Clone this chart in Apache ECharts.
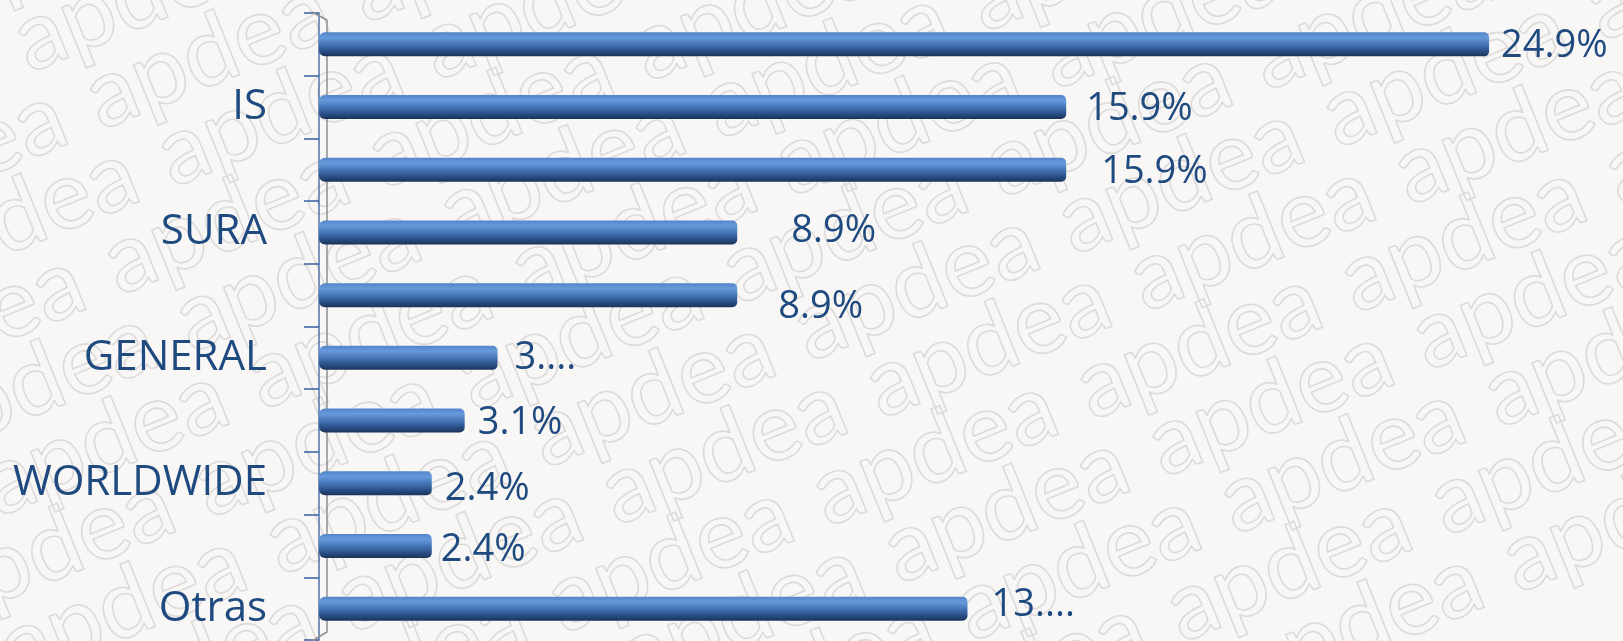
<!DOCTYPE html>
<html>
<head>
<meta charset="utf-8">
<script src="https://cdn.jsdelivr.net/npm/echarts@6/dist/echarts.min.js"></script>
<style>
  html, body { margin: 0; padding: 0; background: #f8f7f5; }
  #main { width: 1623px; height: 641px; }
</style>
</head>
<body>
<div id="main"></div>
<script>
var categories = ['', 'IS', '', 'SURA', '', 'GENERAL', '', 'WORLDWIDE', '', 'Otras'];
var values = [24.9, 15.9, 15.9, 8.9, 8.9, 3.8, 3.1, 2.4, 2.4, 13.8];
var valueLabels = ['24.9%', '15.9%', '15.9%', '8.9%', '8.9%', '3....', '3.1%', '2.4%', '2.4%', '13....'];
// label nudges as drawn in the original (gap to bar end, vertical shift)
var labelGap = [12, 20, 35, 54, 41, 17, 13, 13, 9, 24];
var labelShift = [2, 2, 2, -1, 12, 0, 3, 6, 4, -3];

var myChart = echarts.init(document.getElementById('main'));

// background watermark
var marks = [];
for (var j = -7; j < 14; j++) {
  for (var i = -3; i < 9; i++) {
    marks.push({
      type: 'text',
      x: i * 285 + (j % 3) * 45,
      y: j * 80,
      style: {
        text: 'apdea',
        font: '500 96px Lato',
        fill: 'rgba(0,0,0,0)',
        stroke: '#dddbd9',
        lineWidth: 1.6
      }
    });
  }
}

var barColor = new echarts.graphic.LinearGradient(0, 0, 0, 1, [
  { offset: 0, color: '#5284c8' },
  { offset: 0.22, color: '#679adc' },
  { offset: 0.5, color: '#4676b8' },
  { offset: 0.78, color: '#2a5088' },
  { offset: 1, color: '#1a3258' }
]);

var option = {
  backgroundColor: '#f8f7f5',
  animation: false,
  grid: { left: 319, right: 0, top: 13, bottom: 1, containLabel: false },
  graphic: [
    {
      type: 'group',
      x: 0, y: 0,
      rotation: Math.PI * 22 / 180,
      z: -10,
      silent: true,
      children: marks
    },
    {
      type: 'polyline',
      z: 1,
      silent: true,
      shape: { points: [[312, 12], [327, 20], [327, 632], [312, 641]] },
      style: { stroke: '#8f8f8f', lineWidth: 1.5, fill: null }
    }
  ],
  xAxis: {
    type: 'value',
    min: 0,
    max: 27.75,
    show: false
  },
  yAxis: {
    type: 'category',
    inverse: true,
    data: categories,
    offset: 7,
    axisLine: { show: true, lineStyle: { color: '#4f72a8', width: 1.5 } },
    axisTick: { show: true, length: 15, lineStyle: { color: '#355f9a', width: 1.5 } },
    axisLabel: {
      interval: 0,
      margin: 45,
      color: '#1f4a80',
      fontFamily: 'Open Sans',
      fontSize: 42
    }
  },
  series: [{
    type: 'bar',
    barWidth: 24,
    data: values.map(function (v, k) {
      return {
        value: v,
        label: {
          distance: labelGap[k],
          offset: [0, labelShift[k]],
          formatter: valueLabels[k]
        }
      };
    }),
    itemStyle: {
      color: barColor,
      borderRadius: [6, 5, 5, 6]
    },
    label: {
      show: true,
      position: 'right',
      color: '#1f4a80',
      fontFamily: 'Open Sans',
      fontSize: 38
    }
  }]
};
myChart.setOption(option);
</script>
</body>
</html>
